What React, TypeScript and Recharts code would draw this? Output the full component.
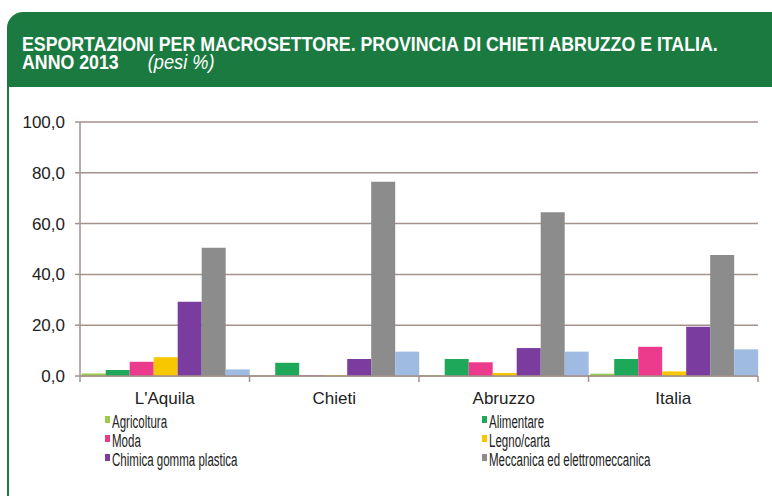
import React from 'react';
import { BarChart, Bar, XAxis, YAxis, CartesianGrid } from 'recharts';

const categories = ["L'Aquila", 'Chieti', 'Abruzzo', 'Italia'];
const agricoltura = [1.0, 0.1, 0.3, 0.9];
const alimentare = [2.4, 5.2, 6.7, 6.7];
const moda = [5.6, 0.2, 5.4, 11.5];
const legnoCarta = [7.4, 0.3, 1.2, 1.8];
const chimica = [29.2, 6.7, 11.0, 19.4];
const meccanica = [50.5, 76.5, 64.5, 47.6];
const altro = [2.6, 9.6, 9.6, 10.5];
const yTicks = [0, 20, 40, 60, 80, 100];

const series = [
    { key: 'agricoltura', name: 'Agricoltura', values: agricoltura, color: '#9bcb4a', legend: true },
    { key: 'alimentare', name: 'Alimentare', values: alimentare, color: '#1ea85a', legend: true },
    { key: 'moda', name: 'Moda', values: moda, color: '#ec3a8d', legend: true },
    { key: 'legno', name: 'Legno/carta', values: legnoCarta, color: '#f8c700', legend: true },
    { key: 'chimica', name: 'Chimica gomma plastica', values: chimica, color: '#7b3c9f', legend: true },
    { key: 'meccanica', name: 'Meccanica ed elettromeccanica', values: meccanica, color: '#8d8c8c', legend: true },
    { key: 'altro', name: 'Altro', values: altro, color: '#a0bbe2', legend: false },
];

const data = categories.map((name, i) => {
    const row: Record<string, string | number> = { name };
    series.forEach((s) => {
        row[s.key] = s.values[i];
    });
    return row;
});

const GREEN = '#1b7a40';
const GRID = '#a3928c';
const FONT = '"Liberation Sans", Arial, sans-serif';

const CategoryTick = (props: any) => {
    const { x, y, payload, width, visibleTicksCount, index } = props;
    const band = width / visibleTicksCount;
    return (
        <g>
            <line x1={x - band / 2} x2={x - band / 2} y1={y - 8} y2={y - 2} stroke={GRID} strokeWidth={1.5} />
            {index === visibleTicksCount - 1 && (
                <line x1={x + band / 2} x2={x + band / 2} y1={y - 8} y2={y - 2} stroke={GRID} strokeWidth={1.5} />
            )}
            <text x={x} y={y + 20} textAnchor="middle" fill="#222" fontSize={17} fontFamily={FONT}>
                {payload.value}
            </text>
        </g>
    );
};

const ChartLegend = () => (
    <div
        style={{
            position: 'absolute',
            left: 105,
            top: 413,
            display: 'grid',
            gridTemplateColumns: '377px 280px',
            fontFamily: FONT,
            fontSize: 18,
            color: '#222',
            lineHeight: '19px',
        }}
    >
        {series
            .filter((s) => s.legend)
            .map((s) => (
                <div key={s.key} style={{ display: 'flex', alignItems: 'flex-start', whiteSpace: 'nowrap' }}>
                    <span
                        style={{
                            display: 'inline-block',
                            width: 5,
                            height: 7,
                            marginTop: 3,
                            marginRight: 2,
                            background: s.color,
                        }}
                    />
                    <span style={{ display: 'inline-block', transform: 'scaleX(0.64)', transformOrigin: 'left' }}>
                        {s.name}
                    </span>
                </div>
            ))}
    </div>
);

const App: React.FC = () => {
    return (
        <div style={{ position: 'fixed', left: 0, top: 0, width: 772, height: 496, background: '#fff', overflow: 'hidden' }}>
            <div
                style={{
                    position: 'absolute',
                    left: 7,
                    top: 12,
                    width: 780,
                    height: 75,
                    background: GREEN,
                    borderTopLeftRadius: 16,
                    color: '#fff',
                    fontFamily: FONT,
                    fontWeight: 700,
                    fontSize: 19.5,
                    lineHeight: '18px',
                    padding: '23px 0 0 15px',
                    boxSizing: 'border-box',
                    whiteSpace: 'nowrap',
                }}
            >
                <div style={{ transform: 'scaleX(0.91)', transformOrigin: 'left' }}>
                    ESPORTAZIONI PER MACROSETTORE. PROVINCIA DI CHIETI ABRUZZO E ITALIA.
                </div>
                <div style={{ transform: 'scaleX(0.91)', transformOrigin: 'left' }}>
                    ANNO 2013
                    <span style={{ fontWeight: 400, fontStyle: 'italic', fontSize: 20, marginLeft: 32 }}>(pesi %)</span>
                </div>
            </div>
            <div style={{ position: 'absolute', left: 7, top: 87, width: 2, height: 409, background: GREEN }} />
            <div style={{ position: 'absolute', left: 0, top: 0 }}>
                <BarChart
                    width={772}
                    height={420}
                    data={data}
                    margin={{ top: 122, right: 14, left: 0, bottom: 20 }}
                    barCategoryGap="1%"
                    barGap={0}
                >
                    <CartesianGrid vertical={false} stroke={GRID} strokeWidth={1.5} />
                    <XAxis
                        dataKey="name"
                        height={24}
                        axisLine={{ stroke: GRID, strokeWidth: 1.5 }}
                        tickLine={false}
                        tick={<CategoryTick />}
                        interval={0}
                    />
                    <YAxis
                        width={80}
                        domain={[0, 100]}
                        ticks={yTicks}
                        tickFormatter={(v: number) => v.toFixed(1).replace('.', ',')}
                        axisLine={{ stroke: GRID, strokeWidth: 1.5 }}
                        tickLine={{ stroke: GRID, strokeWidth: 1.5 }}
                        tickSize={5}
                        tickMargin={10}
                        tick={{ fill: '#222', fontSize: 17, fontFamily: FONT }}
                    />
                    {series.map((s) => (
                        <Bar key={s.key} dataKey={s.key} name={s.name} fill={s.color} isAnimationActive={false} />
                    ))}
                </BarChart>
            </div>
            <ChartLegend />
        </div>
    );
};

export default App;
